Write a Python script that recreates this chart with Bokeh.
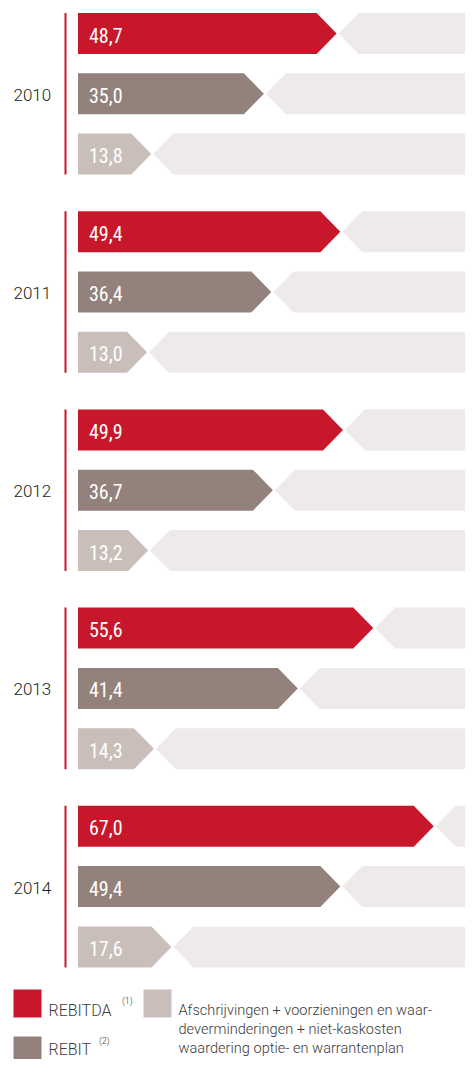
from bokeh.plotting import figure
from bokeh.models import Range1d, ColumnDataSource
from bokeh.core.properties import value
from bokeh.embed import file_html
from bokeh.resources import INLINE

# ---------------- data ----------------
years = ["2010", "2011", "2012", "2013", "2014"]
rebitda = [48.7, 49.4, 49.9, 55.6, 67.0]
rebit = [35.0, 36.4, 36.7, 41.4, 49.4]
afschr = [13.8, 13.0, 13.2, 14.3, 17.6]
series_names = ["REBITDA", "REBIT", "Afschrijvingen"]
legend_lines = ["Afschrijvingen + voorzieningen en waar-",
                "deverminderingen + niet-kaskosten",
                "waardering optie- en warrantenplan"]

# ---------------- style / layout ----------------
RED = "#C8172B"
BROWN = "#93827B"
LIGHT = "#C9BEBA"
BG = "#EEEAE9"
colors = [RED, BROWN, LIGHT]
LIGHT_FONT = value("'Roboto Light', Roboto")
LABEL_FONT = value("'Roboto Condensed', 'Roboto Light', Roboto")

K = 5.31          # px per unit
X0 = 77.5         # x of zero
W, H = 465, 1059


def px(x):
    return (x - X0) / K


XMIN, XMAX = px(0), px(W)
RIGHT_END = px(W)
TIP = 20.0 / K
GAP = 2.0 / K
GROUP_PITCH = 198.2
ROW_PITCH = 60.3
BAR_H = 41.0
TOP0 = 12.5

p = figure(width=W, height=H, output_backend="svg", toolbar_location=None,
           x_range=Range1d(XMIN, XMAX), y_range=Range1d(H, 0),
           min_border=0)
p.axis.visible = False
p.grid.visible = False
p.outline_line_color = None
p.background_fill_color = "white"
p.border_fill_color = "white"

bar_xs, bar_ys, bar_c = [], [], []
bg_xs, bg_ys = [], []
lab_x, lab_y, lab_t = [], [], []
yr_x, yr_y, yr_t = [], [], []
seg_x0, seg_y0, seg_y1 = [], [], []

for g, yr in enumerate(years):
    top = TOP0 + g * GROUP_PITCH
    vals = [rebitda[g], rebit[g], afschr[g]]
    for s, v in enumerate(vals):
        t = top + s * ROW_PITCH
        b = t + BAR_H
        m = (t + b) / 2
        bar_xs.append([0, v - TIP, v, v - TIP, 0])
        bar_ys.append([t, t, m, b, b])
        bar_c.append(colors[s])
        n = v + GAP
        bg_xs.append([n + TIP, RIGHT_END, RIGHT_END, n + TIP, n])
        bg_ys.append([t, t, b, b, m])
        lab_x.append(px(88.5))
        lab_y.append(m + 1.5)
        lab_t.append(f"{v:.1f}".replace(".", ","))
    yr_x.append(px(13))
    yr_y.append(top + ROW_PITCH + BAR_H / 2 + 1)
    yr_t.append(yr)
    seg_x0.append(px(65))
    seg_y0.append(top)
    seg_y1.append(top + 2 * ROW_PITCH + BAR_H)

p.patches(xs=bg_xs, ys=bg_ys, fill_color=BG, line_color=None)
p.patches(source=ColumnDataSource(dict(xs=bar_xs, ys=bar_ys, c=bar_c)),
          xs="xs", ys="ys", fill_color="c", line_color=None)
p.segment(x0=seg_x0, y0=seg_y0, x1=seg_x0, y1=seg_y1, line_color=RED, line_width=2)

p.text(x=lab_x, y=lab_y, text=lab_t, text_color="white",
       text_font=LABEL_FONT, text_font_size="20px",
       text_baseline="middle", text_align="left")
p.text(x=yr_x, y=yr_y, text=yr_t, text_color="#231F20",
       text_font=LIGHT_FONT, text_font_size="17px",
       text_baseline="middle", text_align="left")

# ---------------- legend ----------------
p.quad(left=[px(13), px(13), px(143)], right=[px(41), px(41), px(171)],
       top=[989, 1036, 989], bottom=[1017, 1065, 1017],
       fill_color=colors, line_color=None)
p.text(x=[px(48), px(48)], y=[1009.5, 1049], text=[series_names[0], series_names[1]],
       text_color="#3C3C3C", text_font=LIGHT_FONT, text_font_size="16px",
       text_baseline="alphabetic", text_align="left")
p.text(x=[px(121.5), px(98.5)], y=[1000, 1040], text=["(1)", "(2)"],
       text_color="#3C3C3C", text_font=LIGHT_FONT, text_font_size="9px",
       text_baseline="middle", text_align="left")
p.text(x=[px(178)] * 3, y=[1009, 1028, 1047], text=legend_lines,
       text_color="#3C3C3C", text_font=LIGHT_FONT, text_font_size="14.6px",
       text_baseline="alphabetic", text_align="left")

open("out.html", "w").write(file_html(p, INLINE))
